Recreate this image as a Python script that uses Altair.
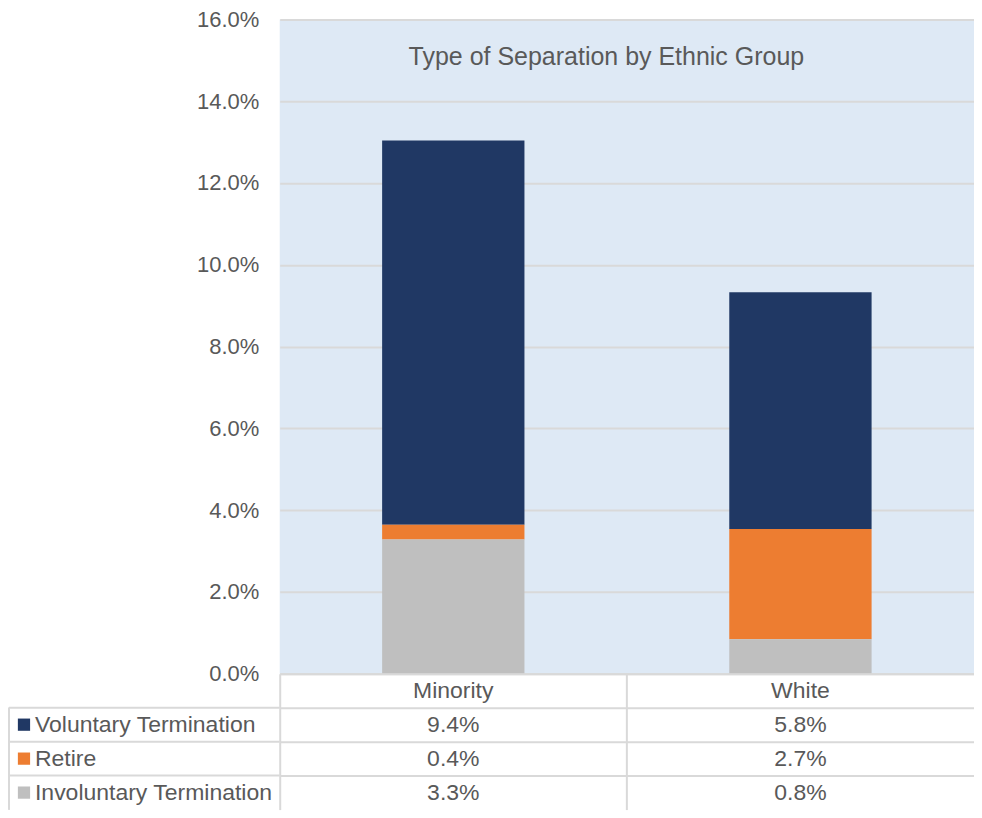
import altair as alt
import pandas as pd

# ---- data ----
groups = ["Minority", "White"]
types = ["Voluntary Termination", "Retire", "Involuntary Termination"]
voluntary = [0.0940, 0.0579]
retire = [0.0036, 0.0270]
involuntary = [0.0328, 0.0084]
colors = ["#203864", "#ED7D31", "#BFBFBF"]
y_ticks = [0.0, 0.02, 0.04, 0.06, 0.08, 0.10, 0.12, 0.14, 0.16]
title_text = "Type of Separation by Ethnic Group"

series = {"Voluntary Termination": voluntary, "Retire": retire,
          "Involuntary Termination": involuntary}
stack_rank = {"Involuntary Termination": 0, "Retire": 1, "Voluntary Termination": 2}

rows = []
for t in types:
    for g, v in zip(groups, series[t]):
        rows.append({"group": g, "type": t, "value": v, "rank": stack_rank[t]})
df = pd.DataFrame(rows)

row_domain = ["header"] + types
cells = [{"group": g, "row": "header", "label": g} for g in groups]
for t in types:
    for g, v in zip(groups, series[t]):
        cells.append({"group": g, "row": t, "label": f"{v * 100:.1f}%"})
cells_df = pd.DataFrame(cells)
label_df = pd.DataFrame({"row": types})

# ---- style ----
FONT = "Liberation Sans"
TXT = "#595959"
GRID = "#D9D9D9"
BG = "#DEE9F5"
PLOT_W, PLOT_H = 695, 655
LABEL_W = 271
ROW_H = 34

color_scale = alt.Scale(domain=types, range=colors)

bars = alt.Chart(df).mark_bar().encode(
    x=alt.X("group:N", sort=groups,
            scale=alt.Scale(type="band", paddingInner=0.59, paddingOuter=0.295),
            axis=None),
    y=alt.Y("value:Q", stack="zero",
            scale=alt.Scale(domain=[0, 0.16], nice=False),
            axis=alt.Axis(values=y_ticks, format=".1%", title=None, grid=True,
                          gridColor=GRID, gridWidth=2, domain=False, ticks=False,
                          labelPadding=21, labelFontSize=22, labelColor=TXT,
                          labelFont=FONT)),
    color=alt.Color("type:N", scale=color_scale, legend=None),
    order=alt.Order("rank:Q", sort="ascending"),
)

title = alt.Chart(pd.DataFrame({"t": [title_text]})).mark_text(
    font=FONT, fontSize=25, color=TXT
).encode(x=alt.value(327), y=alt.value(38), text="t:N")

top = alt.layer(bars, title).properties(
    width=PLOT_W, height=PLOT_H,
    view=alt.ViewBackground(fill=BG, stroke=None),
)

spacer = alt.Chart(pd.DataFrame({"a": [0]})).mark_text(text="").encode(
    x=alt.value(0), y=alt.value(0)
).properties(width=LABEL_W, height=PLOT_H, view=alt.ViewBackground(stroke=None))

row_scale = alt.Scale(type="band", domain=row_domain, paddingInner=0, paddingOuter=0)

lab_base = alt.Chart(label_df)
lab_hline = lab_base.mark_rule(color=GRID, strokeWidth=2).encode(
    y=alt.Y("row:N", scale=row_scale, axis=None, bandPosition=0),
    x=alt.value(0), x2=alt.value(LABEL_W),
)
lab_vline = lab_base.mark_rule(color=GRID, strokeWidth=2).encode(
    x=alt.value(0), y=alt.value(ROW_H), y2=alt.value(4 * ROW_H)
)
lab_sq = lab_base.mark_square(size=150, opacity=1).encode(
    y=alt.Y("row:N", scale=row_scale, axis=None),
    x=alt.value(15),
    color=alt.Color("row:N", scale=color_scale, legend=None),
)
lab_txt = lab_base.mark_text(align="left", font=FONT, fontSize=23, color=TXT).encode(
    y=alt.Y("row:N", scale=row_scale, axis=None),
    x=alt.value(26), text="row:N"
)
labels = alt.layer(lab_hline, lab_vline, lab_sq, lab_txt).properties(
    width=LABEL_W, height=4 * ROW_H, view=alt.ViewBackground(stroke=None)
)

vals = alt.Chart(cells_df).mark_text(font=FONT, fontSize=23, color=TXT).encode(
    x=alt.X("group:N", sort=groups,
            scale=alt.Scale(type="band", paddingInner=0, paddingOuter=0),
            axis=alt.Axis(orient="top", grid=True, bandPosition=0, gridColor=GRID,
                          gridWidth=2, labels=False, ticks=False, domain=False,
                          title=None)),
    y=alt.Y("row:N", scale=row_scale,
            axis=alt.Axis(grid=True, bandPosition=0, gridColor=GRID, gridWidth=2,
                          labels=False, ticks=False, domain=False, title=None)),
    text="label:N",
).properties(width=PLOT_W, height=4 * ROW_H, view=alt.ViewBackground(stroke=None))

chart = alt.concat(spacer, top, labels, vals, columns=2, spacing=0,
                   bounds="flush").properties(
    padding={"left": 0, "top": 0, "right": 0, "bottom": 0}
).configure_view(stroke=None)

chart.save("out.html", embed_options={"renderer": "svg", "actions": False})
